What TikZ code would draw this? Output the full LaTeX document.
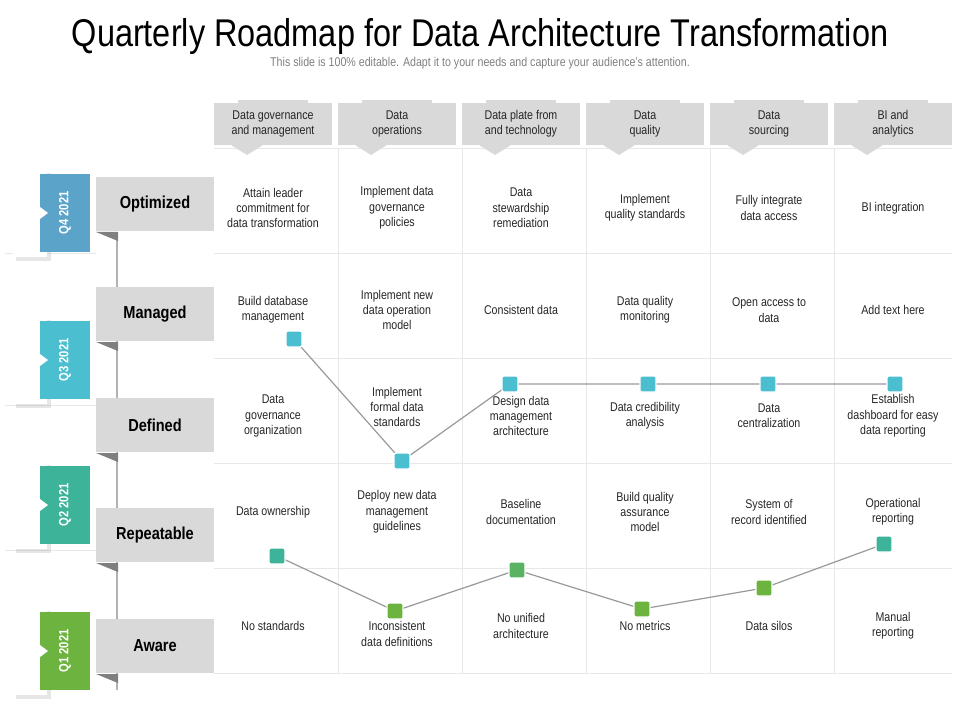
\documentclass[tikz,border=0pt]{standalone}
\usepackage{fontspec}
\setmainfont{Liberation Sans}[FakeStretch=0.84]
\usetikzlibrary{positioning,shadows}
\definecolor{hdrgray}{HTML}{D9D9D9}
\definecolor{fold}{HTML}{7F7F7F}
\definecolor{qfour}{HTML}{5BA3C9}
\definecolor{qthree}{HTML}{4BBFD0}
\definecolor{qtwo}{HTML}{3DB39A}
\definecolor{qone}{HTML}{6DB33F}
\definecolor{gridline}{HTML}{E8E8E8}
\tikzset{
  header/.style  = {rectangle, fill=hdrgray, minimum width=88.5pt, minimum height=32pt,
                    inner sep=1pt, align=center, font=\fontsize{9.5}{11}\selectfont, text=black!85},
  level/.style   = {rectangle, fill=hdrgray, minimum width=88.5pt, minimum height=41pt,
                    font=\fontsize{13}{15}\selectfont\bfseries},
  cell/.style    = {align=center, font=\fontsize{9.5}{11.5}\selectfont, text=black!85},
  quarter/.style = {rectangle, minimum width=37.5pt, minimum height=58pt, text=white,
                    inner sep=0pt, font=\fontsize{10}{12}\selectfont\bfseries},
  card/.style    = {rectangle, fill=white, minimum width=26pt, minimum height=66pt,
                    drop shadow={opacity=0.2}},
  marker/.style  = {rectangle, rounded corners=1.5pt, minimum size=12pt, inner sep=0pt,
                    draw=white, line width=0.9pt},
  track/.style   = {draw=black!40, line width=0.9pt}
}
\begin{document}
\begin{tikzpicture}[x=0.75pt,y=-0.75pt]
\useasboundingbox (0,0) rectangle (960,720);
% title
\node (title) at (480,37) {\fontsize{29}{32}\selectfont Quarterly Roadmap for Data Architecture Transformation};
\node (sub) [below=-5pt of title, text=black!50, font=\fontsize{9.5}{11}\selectfont]
  {This slide is 100\% editable. Adapt it to your needs and capture your audience's attention.};
% grid
\foreach \y in {148,253,358,463,568,673}
  \draw [gridline] (214,\y) -- (952,\y);
\foreach \y in {253,405,550} \draw [gridline] (5,\y) -- (96,\y);
\foreach \x in {338,462,586,710,834}
  \draw [gridline] (\x,148) -- (\x,673);
% headers
\foreach \n/\x/\t in {h1/273/Data governance\\and management, h2/397/Data\\operations,
    h3/521/Data plate from\\and technology, h4/645/Data\\quality,
    h5/769/Data\\sourcing, h6/893/BI and\\analytics} {
  \fill [hdrgray] (\x-35,100) rectangle (\x+35,103);
  \node (\n) [header] at (\x,124) {\t};
  \fill [hdrgray] (\x-42,145) -- (\x-10,145) -- (\x-26,155) -- cycle;
}
% spine
\draw [black!30, line width=1.5pt] (117,232) -- (117,690);
% levels
\foreach \n/\y/\t in {lv5/204/Optimized, lv4/314/Managed, lv3/425/Defined,
    lv2/535/Repeatable, lv1/646/Aware} {
  \node (\n) [level] at (155,\y) {\t};
  \fill [fold] (96,\y+28) -- (118,\y+28) -- (118,\y+37) -- cycle;
}
% quarters
\foreach \n/\y/\c/\t in {q4/213/qfour/Q4 2021, q3/360/qthree/Q3 2021,
    q2/505/qtwo/Q2 2021, q1/651/qone/Q1 2021} {
  \node (c\n) [card] at (30,\y) {};
  \node (\n) [quarter, fill=\c] at (65,\y) {\rotatebox{90}{\t}};
  \fill [white] (40,\y-6) -- (48,\y) -- (40,\y+6) -- cycle;
}
% cells
\node (a1) [cell] at (273,208) {Attain leader\\commitment for\\data transformation};
\node (a2) [cell] at (397,208) {Implement data\\governance\\policies};
\node (a3) [cell] at (521,208) {Data\\stewardship\\remediation};
\node (a4) [cell] at (645,208) {Implement\\quality standards};
\node (a5) [cell] at (769,208) {Fully integrate\\data access};
\node (a6) [cell] at (893,208) {BI integration};
\node (b1) [cell] at (273,310) {Build database\\management};
\node (b2) [cell] at (397,310) {Implement new\\data operation\\model};
\node (b3) [cell] at (521,310) {Consistent data};
\node (b4) [cell] at (645,310) {Data quality\\monitoring};
\node (b5) [cell] at (769,310) {Open access to\\data};
\node (b6) [cell] at (893,310) {Add text here};
\node (c1) [cell] at (273,416) {Data\\governance\\organization};
\node (c2) [cell] at (397,407) {Implement\\formal data\\standards};
\node (c3) [cell] at (521,416) {Design data\\management\\architecture};
\node (c4) [cell] at (645,416) {Data credibility\\analysis};
\node (c5) [cell] at (769,416) {Data\\centralization};
\node (c6) [cell] at (893,416) {Establish\\dashboard for easy\\data reporting};
\node (d1) [cell] at (273,512) {Data ownership};
\node (d2) [cell] at (397,512) {Deploy new data\\management\\guidelines};
\node (d3) [cell] at (521,512) {Baseline\\documentation};
\node (d4) [cell] at (645,512) {Build quality\\assurance\\model};
\node (d5) [cell] at (769,512) {System of\\record identified};
\node (d6) [cell] at (893,512) {Operational\\reporting};
\node (e1) [cell] at (273,626) {No standards};
\node (e2) [cell] at (397,634) {Inconsistent\\data definitions};
\node (e3) [cell] at (521,626) {No  unified\\architecture};
\node (e4) [cell] at (645,626) {No metrics};
\node (e5) [cell] at (769,626) {Data silos};
\node (e6) [cell] at (893,626) {Manual\\reporting};
% upper track
\draw [track] (294,339) -- (402,461) -- (510,384) -- (895,384);
\node (m1) [marker, fill=qthree] at (294,339) {};
\node (m2) [marker, fill=qthree] at (402,461) {};
\node (m3) [marker, fill=qthree] at (510,384) {};
\node (m4) [marker, fill=qthree] at (648,384) {};
\node (m5) [marker, fill=qthree] at (768,384) {};
\node (m6) [marker, fill=qthree] at (895,384) {};
% lower track
\draw [track] (277,556) -- (395,611) -- (517,570) -- (642,609) -- (764,588) -- (884,544);
\node (n1) [marker, fill=qtwo] at (277,556) {};
\node (n2) [marker, fill=qone] at (395,611) {};
\node (n3) [marker, fill=qone!60!qtwo] at (517,570) {};
\node (n4) [marker, fill=qone] at (642,609) {};
\node (n5) [marker, fill=qone] at (764,588) {};
\node (n6) [marker, fill=qtwo] at (884,544) {};
\end{tikzpicture}
\end{document}
